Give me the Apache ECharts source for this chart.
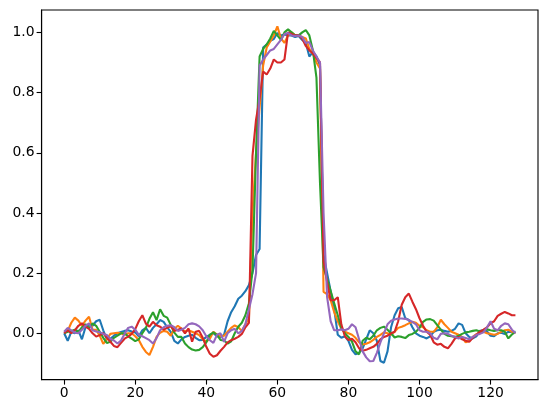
<!DOCTYPE html>
<html>
<head>
<meta charset="utf-8">
<script src="https://cdn.jsdelivr.net/npm/echarts@6/dist/echarts.min.js"></script>
<style>
  html, body { margin: 0; padding: 0; background: #fff; }
  #main { width: 547px; height: 413px; }
</style>
</head>
<body>
<div id="main"></div>
<script>
// tick labels
var xTicks = [0, 20, 40, 60, 80, 100, 120];
var yTicks = [0, 0.2, 0.4, 0.6, 0.8, 1.0];

// five traces, 128 samples each (index = x)
var blue = [0.0, -0.025, 0.005, 0.0, 0.01, -0.02, 0.02, 0.03, 0.025, 0.04,
  0.045, 0.01, -0.02, -0.018, -0.008, 0.0, 0.004, 0.008, 0.01, 0.006,
  0.003, -0.01, 0.01, 0.018, 0.0, 0.018, 0.03, 0.044, 0.038, 0.02,
  0.005, -0.025, -0.034, -0.02, -0.012, -0.008, -0.005, -0.015, -0.023, -0.022,
  -0.012, -0.005, 0.0, -0.01, -0.012, -0.005, 0.04, 0.07, 0.09, 0.115,
  0.125, 0.14, 0.16, 0.2, 0.26, 0.28, 0.95, 0.96, 0.972, 0.978,
  0.998, 0.99, 0.993, 0.99, 0.99, 0.985, 0.988, 0.975, 0.965, 0.92,
  0.935, 0.92, 0.89, 0.26, 0.2, 0.14, 0.08, -0.005, -0.015, -0.01,
  -0.025, -0.055, -0.07, -0.065, -0.05, -0.02, 0.01, 0.0, -0.025, -0.092,
  -0.098, -0.06, 0.02, 0.06, 0.083, 0.087, 0.05, 0.044, 0.02, 0.0,
  -0.008, -0.012, -0.017, -0.01, 0.005, 0.01, 0.012, 0.008, 0.005, 0.008,
  0.015, 0.033, 0.028, 0.0, -0.012, -0.017, -0.01, 0.008, 0.01, 0.006,
  -0.008, -0.01, 0.0, 0.002, -0.002, 0.005, 0.004, 0.005];

var orange = [0.002, 0.008, 0.035, 0.052, 0.042, 0.025, 0.042, 0.055, 0.012, 0.012,
  -0.008, -0.035, -0.02, -0.002, 0.0, 0.002, 0.0, -0.005, 0.0, 0.0,
  -0.01, -0.022, -0.045, -0.062, -0.072, -0.045, -0.012, 0.002, 0.008, 0.005,
  -0.008, 0.015, 0.025, 0.016, 0.006, 0.01, 0.005, 0.0, -0.006, -0.02,
  -0.028, -0.018, 0.005, -0.004, -0.01, -0.008, 0.005, 0.018, 0.026, 0.02,
  0.008, 0.03, 0.05, 0.4, 0.6, 0.75, 0.89, 0.95, 0.97, 0.99,
  1.02, 0.98, 0.965, 0.99, 1.0, 0.99, 0.99, 0.985, 0.98, 0.945,
  0.93, 0.9, 0.88, 0.138, 0.13, 0.11, 0.07, 0.04, 0.015, 0.005,
  0.0, -0.005, -0.015, -0.03, -0.037, -0.035, -0.03, -0.022, -0.012, -0.005,
  0.003, 0.0, -0.005, 0.005, 0.018, 0.022, 0.027, 0.033, 0.038, 0.035,
  0.025, 0.02, 0.01, 0.005, 0.005, 0.02, 0.045, 0.03, 0.018, 0.005,
  0.0, -0.005, -0.012, -0.03, -0.025, -0.012, -0.003, 0.003, 0.005, 0.0,
  -0.002, -0.005, -0.002, 0.005, 0.01, 0.012, 0.005, 0.0];

var green = [0.0, 0.005, 0.008, 0.012, 0.005, 0.02, 0.03, 0.018, 0.033, 0.025,
  0.005, -0.015, -0.032, -0.028, -0.015, -0.008, 0.0, 0.0, -0.01, -0.018,
  -0.026, -0.02, 0.0, 0.018, 0.048, 0.07, 0.044, 0.08, 0.058, 0.052,
  0.028, 0.002, -0.012, -0.012, -0.034, -0.046, -0.054, -0.057, -0.055, -0.046,
  -0.03, -0.005, 0.003, -0.005, -0.022, -0.024, -0.034, -0.027, 0.0, 0.022,
  0.035, 0.06, 0.1, 0.21, 0.6, 0.92, 0.945, 0.96, 0.98, 1.005,
  0.99, 0.975, 1.0, 1.01, 1.0, 0.99, 0.99, 1.0, 1.008, 0.99,
  0.94, 0.85, 0.5, 0.22, 0.18, 0.14, 0.1, 0.06, 0.018, 0.0,
  -0.012, -0.028, -0.06, -0.07, -0.025, -0.015, -0.02, -0.008, 0.01, 0.018,
  0.022, 0.012, 0.0, -0.014, -0.01, -0.012, -0.016, -0.006, -0.002, 0.005,
  0.018, 0.038, 0.046, 0.047, 0.042, 0.027, 0.012, -0.002, -0.008, -0.01,
  -0.012, -0.008, -0.002, 0.003, 0.005, 0.008, 0.01, 0.006, 0.01, 0.013,
  0.01, 0.008, 0.01, 0.01, 0.005, -0.017, -0.004, 0.005];

var red = [0.0, 0.01, 0.0, 0.01, 0.025, 0.033, 0.022, 0.015, 0.0, -0.011,
  -0.006, 0.0, -0.014, -0.028, -0.042, -0.046, -0.032, -0.018, -0.011, -0.002,
  0.014, 0.04, 0.06, 0.032, 0.022, 0.038, 0.027, 0.022, 0.012, 0.018,
  0.024, 0.008, 0.012, 0.016, 0.0, 0.016, -0.028, 0.005, 0.008, -0.015,
  -0.045, -0.068, -0.078, -0.073, -0.058, -0.045, -0.03, -0.023, -0.018, -0.012,
  -0.002, 0.02, 0.035, 0.59, 0.71, 0.78, 0.87, 0.86, 0.88, 0.91,
  0.9, 0.9, 0.91, 1.0, 0.995, 0.99, 0.99, 0.98, 0.955, 0.94,
  0.93, 0.915, 0.9, 0.24, 0.17, 0.11, 0.11, 0.12, 0.03, -0.01,
  -0.022, -0.018, -0.03, -0.05, -0.058, -0.055, -0.05, -0.045, -0.035, -0.02,
  -0.012, -0.008, 0.0, 0.005, 0.04, 0.095, 0.12, 0.132, 0.105, 0.08,
  0.05, 0.025, 0.005, -0.005, -0.03, -0.038, -0.035, -0.045, -0.05, -0.035,
  -0.017, -0.012, -0.02, -0.025, -0.028, -0.015, -0.005, 0.005, 0.012, 0.02,
  0.033, 0.04, 0.058, 0.065, 0.071, 0.066, 0.06, 0.06];

var purple = [0.005, 0.018, 0.01, 0.002, 0.0, 0.012, 0.025, 0.033, 0.01, 0.006,
  0.004, -0.002, -0.006, -0.018, -0.024, -0.034, -0.024, -0.002, 0.018, 0.022,
  0.012, -0.005, -0.01, -0.016, -0.023, -0.034, -0.016, 0.01, 0.02, 0.025,
  0.027, 0.02, 0.008, 0.012, 0.018, 0.03, 0.033, 0.03, 0.023, 0.01,
  -0.01, -0.023, -0.032, -0.005, 0.0, -0.028, 0.0, 0.01, 0.015, 0.0,
  0.008, 0.03, 0.08, 0.13, 0.2, 0.89, 0.91, 0.925, 0.94, 0.945,
  0.96, 0.975, 0.995, 0.998, 0.99, 0.988, 0.99, 0.985, 0.965, 0.968,
  0.94, 0.92, 0.9, 0.4, 0.12, 0.04, 0.01, 0.01, 0.013, 0.01,
  0.015, 0.03, 0.02, -0.02, -0.06, -0.08, -0.093, -0.092, -0.065, -0.03,
  0.0, 0.03, 0.042, 0.046, 0.049, 0.049, 0.048, 0.044, 0.038, 0.03,
  0.01, 0.005, 0.005, 0.0, -0.015, -0.02, -0.002, 0.0, -0.002, -0.008,
  -0.012, -0.017, -0.012, -0.016, -0.02, -0.012, -0.005, -0.002, 0.003, 0.02,
  0.04, 0.015, 0.01, 0.025, 0.033, 0.03, 0.012, 0.0];

var traces = [blue, orange, green, red, purple];
var colors = ['#1f77b4', '#ff7f0e', '#2ca02c', '#d62728', '#9467bd'];

var chart = echarts.init(document.getElementById('main'), null, {renderer: 'canvas'});

var seriesList = [];
for (var k = 0; k < traces.length; k++) {
    var pts = [];
    for (var i = 0; i < traces[k].length; i++) {
        pts.push([i, traces[k][i]]);
    }
    seriesList.push({
        type: 'line',
        data: pts,
        showSymbol: false,
        lineStyle: {color: colors[k], width: 2.1},
        itemStyle: {color: colors[k]}
    });
}

var axisFont = {color: '#000', fontSize: 13.9, fontFamily: 'DejaVu Sans'};

var option = {
    animation: false,
    grid: {
        left: 41.6, right: 9, top: 10, bottom: 33.4,
        show: true, borderColor: '#000', borderWidth: 1.1, backgroundColor: '#fff'
    },
    xAxis: {
        type: 'value',
        min: -6.35, max: 133.35,
        axisLine: {show: true, onZero: false, lineStyle: {color: '#000', width: 1.1}},
        axisTick: {show: true, length: 5, customValues: xTicks, lineStyle: {color: '#000', width: 1.1}},
        axisLabel: Object.assign({margin: 7, customValues: xTicks}, axisFont),
        splitLine: {show: false}
    },
    yAxis: {
        type: 'value',
        min: -0.1539, max: 1.0745,
        axisLine: {show: true, onZero: false, lineStyle: {color: '#000', width: 1.1}},
        axisTick: {show: true, length: 5, customValues: yTicks, lineStyle: {color: '#000', width: 1.1}},
        axisLabel: Object.assign({
            margin: 7,
            customValues: yTicks,
            formatter: function (v) { return v.toFixed(1); }
        }, axisFont),
        splitLine: {show: false}
    },
    series: seriesList
};
chart.setOption(option);
</script>
</body>
</html>
